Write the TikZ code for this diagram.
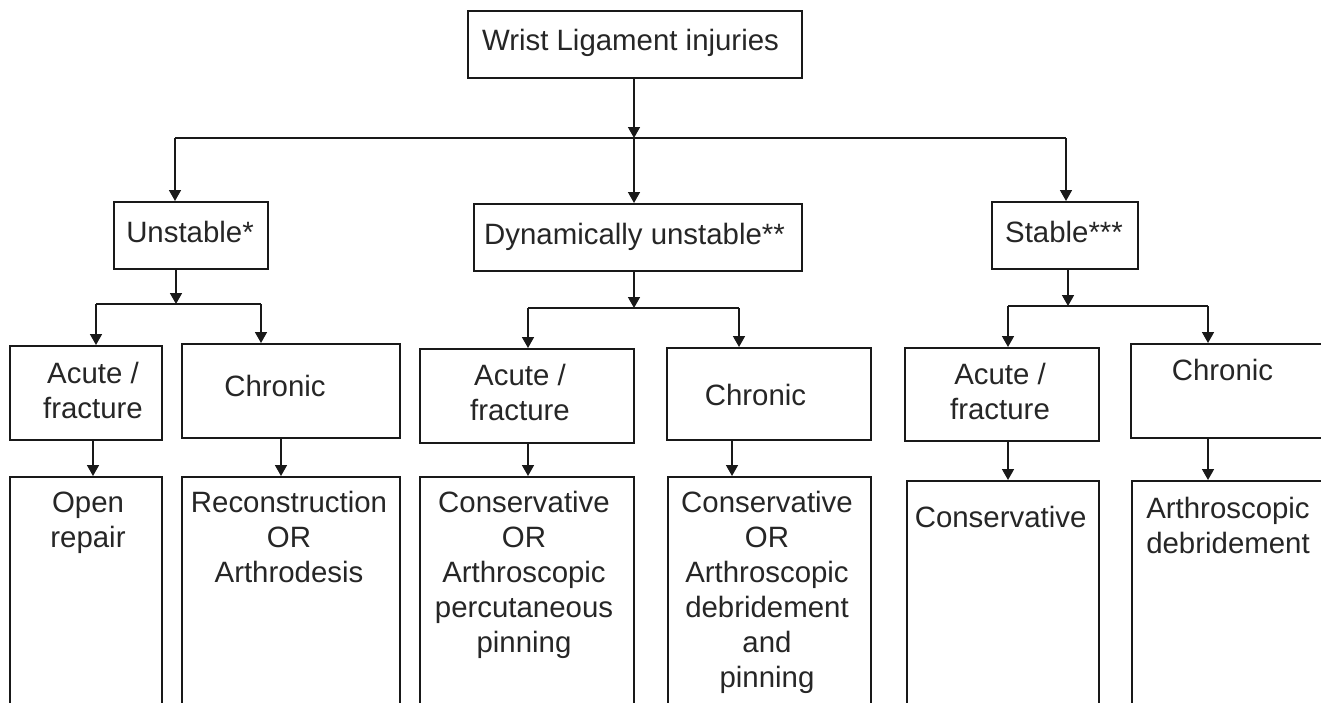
\documentclass[tikz,border=0pt]{standalone}
\usepackage{fontspec}
\setmainfont{Liberation Sans}
\usetikzlibrary{arrows.meta}
\begin{document}
\begin{tikzpicture}[x=1pt,y=-1pt,
  box/.style={draw=black!90, line width=2pt, inner sep=0pt, anchor=north west},
  txt/.style={inner sep=0pt, anchor=base, align=center, text=black!85, font=\fontsize{29.4}{35}\selectfont},
  conn/.style={draw=black!90, line width=1.6pt},
  arr/.style={conn, -{Triangle[length=11pt,width=12pt]}}
]
\fill[white] (0,0) rectangle (1321,702);
\useasboundingbox (0,0) rectangle (1321,702);

% level 0
\node[box, minimum width=334pt, minimum height=67pt] (top) at (467,10) {};
\node[txt] (ttop) at (630.5,50) {Wrist Ligament injuries};

% level 1
\node[box, minimum width=154pt, minimum height=67pt] (unst) at (113,201) {};
\node[box, minimum width=328pt, minimum height=67pt] (dyn) at (473,203) {};
\node[box, minimum width=146pt, minimum height=67pt] (stab) at (991,201) {};
\node[txt] (tunst) at (190,242) {Unstable*};
\node[txt] (tdyn) at (634.5,244) {Dynamically unstable**};
\node[txt] (tstab) at (1064,242) {Stable***};

% level 2 (multi-line texts are placed by the baseline of their last line)
\node[box, minimum width=152pt, minimum height=94pt] (a1) at (9,345) {};
\node[box, minimum width=218pt, minimum height=94pt] (c1) at (181,343) {};
\node[box, minimum width=214pt, minimum height=94pt] (a2) at (419,348) {};
\node[box, minimum width=204pt, minimum height=92pt] (c2) at (666,347) {};
\node[box, minimum width=194pt, minimum height=93pt] (a3) at (904,347) {};
\node[box, minimum width=210pt, minimum height=94pt] (c3) at (1130,343) {};
\node[txt] (ta1) at (93,418) {Acute /\\fracture};
\node[txt] (tc1) at (275,396) {Chronic};
\node[txt] (ta2) at (520,420) {Acute /\\fracture};
\node[txt] (tc2) at (755.5,405) {Chronic};
\node[txt] (ta3) at (1000,419) {Acute /\\fracture};
\node[txt] (tc3) at (1222.5,380) {Chronic};

% level 3
\node[box, minimum width=152pt, minimum height=240pt] (b1) at (9,476) {};
\node[box, minimum width=218pt, minimum height=240pt] (b2) at (181,476) {};
\node[box, minimum width=214pt, minimum height=240pt] (b3) at (419,476) {};
\node[box, minimum width=203pt, minimum height=240pt] (b4) at (667,476) {};
\node[box, minimum width=192pt, minimum height=240pt] (b5) at (906,480) {};
\node[box, minimum width=210pt, minimum height=240pt] (b6) at (1131,480) {};
\node[txt] (tb1) at (88,547) {Open\\repair};
\node[txt] (tb2) at (289,582) {Reconstruction\\OR\\Arthrodesis};
\node[txt] (tb3) at (524,652) {Conservative\\OR\\Arthroscopic\\percutaneous\\pinning};
\node[txt] (tb4) at (767,687) {Conservative\\OR\\Arthroscopic\\debridement\\and\\pinning};
\node[txt] (tb5) at (1000.6,527) {Conservative};
\node[txt] (tb6) at (1228,553) {Arthroscopic\\debridement};

% connectors level 0 -> 1
\coordinate (s0) at (634,138);
\coordinate (s0l) at (175,138);
\coordinate (s0r) at (1066,138);
\draw[arr] (s0 |- top.south) -- (s0);
\draw[conn] (s0l) -- (s0r);
\draw[arr] (s0l) -- (s0l |- unst.north);
\draw[arr] (s0) -- (s0 |- dyn.north);
\draw[arr] (s0r) -- (s0r |- stab.north);

% unstable split
\coordinate (s1) at (176,304);
\coordinate (s1l) at (96,304);
\coordinate (s1r) at (261,304);
\draw[arr] (s1 |- unst.south) -- (s1);
\draw[conn] (s1l) -- (s1r);
\draw[arr] (s1l) -- (s1l |- a1.north);
\draw[arr] (s1r) -- (s1r |- c1.north);

% dynamically unstable split
\coordinate (s2) at (634,308);
\coordinate (s2l) at (528,308);
\coordinate (s2r) at (739,308);
\draw[arr] (s2 |- dyn.south) -- (s2);
\draw[conn] (s2l) -- (s2r);
\draw[arr] (s2l) -- (s2l |- a2.north);
\draw[arr] (s2r) -- (s2r |- c2.north);

% stable split
\coordinate (s3) at (1068,306);
\coordinate (s3l) at (1008,306);
\coordinate (s3r) at (1208,306);
\draw[arr] (s3 |- stab.south) -- (s3);
\draw[conn] (s3l) -- (s3r);
\draw[arr] (s3l) -- (s3l |- a3.north);
\draw[arr] (s3r) -- (s3r |- c3.north);

% level 2 -> 3
\coordinate (d1) at (93,0);
\coordinate (d2) at (281,0);
\coordinate (d3) at (528,0);
\coordinate (d4) at (732,0);
\coordinate (d5) at (1008,0);
\coordinate (d6) at (1208,0);
\draw[arr] (d1 |- a1.south) -- (d1 |- b1.north);
\draw[arr] ([yshift=2pt]d2 |- c1.south) -- (d2 |- b2.north);
\draw[arr] (d3 |- a2.south) -- (d3 |- b3.north);
\draw[arr] (d4 |- c2.south) -- (d4 |- b4.north);
\draw[arr] (d5 |- a3.south) -- (d5 |- b5.north);
\draw[arr] (d6 |- c3.south) -- (d6 |- b6.north);
\end{tikzpicture}
\end{document}
